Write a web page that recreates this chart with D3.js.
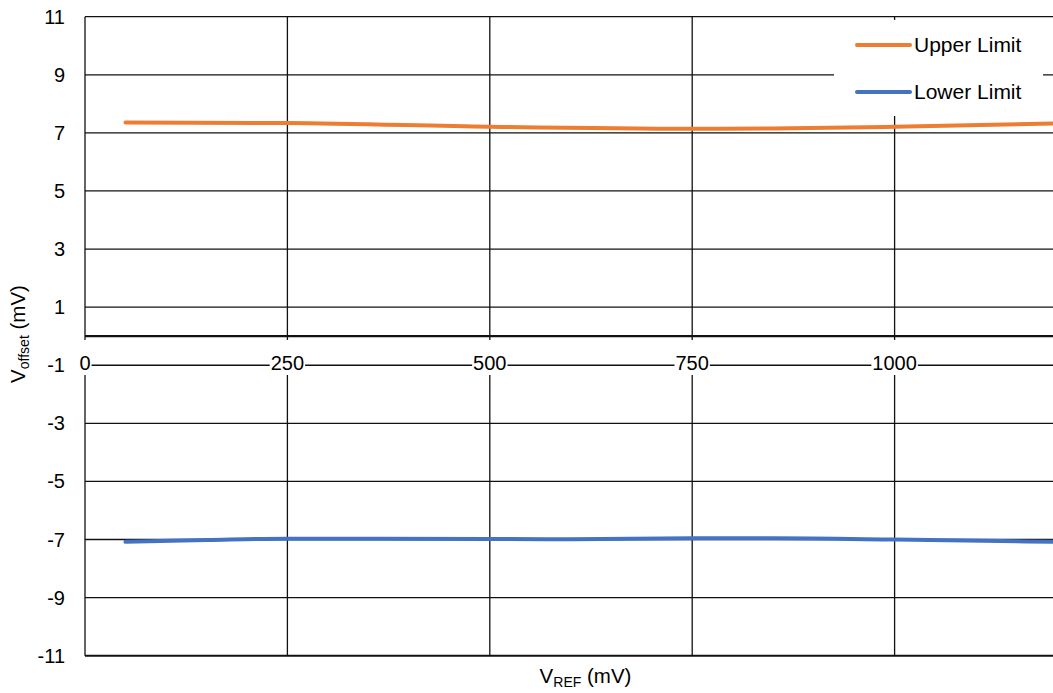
<!DOCTYPE html>
<html>
<head>
<meta charset="utf-8">
<script src="https://cdn.jsdelivr.net/npm/d3@7"></script>
<style>
  html, body { margin: 0; padding: 0; background: #fff; }
  svg { display: block; font-family: "Liberation Sans", Arial, sans-serif; }
</style>
</head>
<body>
<svg id="chart" width="1053" height="693"></svg>
<script>
// ---- data ----
const upperX = [50, 250, 500, 750, 850, 1000, 1200];
const upperY = [7.36, 7.34, 7.21, 7.14, 7.15, 7.21, 7.33];
const lowerX = [50, 150, 250, 500, 600, 750, 850, 1000, 1200];
const lowerY = [-7.08, -7.02, -6.97, -6.98, -6.99, -6.96, -6.96, -7.0, -7.08];
const xTicks = [0, 250, 500, 750, 1000];
const yTicks = [11, 9, 7, 5, 3, 1, -1, -3, -5, -7, -9, -11];
const seriesNames = ["Upper Limit", "Lower Limit"];
const seriesColors = ["#ED7D31", "#4472C4"];

const svg = d3.select("#chart");
const W = 1053, H = 693;

const x = d3.scaleLinear().domain([0, 1200]).range([85, 85 + 1200 * 0.8096]);
const y = d3.scaleLinear().domain([-11, 11]).range([655.7, 16.7]);

// gridlines
const grid = svg.append("g");
grid.selectAll("line.h").data(yTicks).join("line")
  .attr("x1", x(0)).attr("x2", W + 5)
  .attr("y1", d => y(d)).attr("y2", d => y(d))
  .attr("stroke", "#111").attr("stroke-width", d => d === -11 ? 2 : 1.3);
const vTicks = [0, 250, 500, 750, 1000, 1250];
grid.selectAll("line.v").data(vTicks).join("line")
  .attr("x1", d => x(d)).attr("x2", d => x(d))
  .attr("y1", y(11)).attr("y2", y(-11))
  .attr("stroke", "#111").attr("stroke-width", 1.3);

// x-axis line at zero
svg.append("line")
  .attr("x1", x(0)).attr("x2", W + 5)
  .attr("y1", y(0)).attr("y2", y(0))
  .attr("stroke", "#111").attr("stroke-width", 2.2);

// series
const line = d3.line().x(d => x(d[0])).y(d => y(d[1])).curve(d3.curveMonotoneX);
const series = [
  d3.zip(upperX, upperY),
  d3.zip(lowerX, lowerY)
];
svg.selectAll("path.series").data(series).join("path")
  .attr("class", "series")
  .attr("d", line)
  .attr("fill", "none")
  .attr("stroke", (d, i) => seriesColors[i])
  .attr("stroke-width", 4)
  .attr("stroke-linecap", "round")
  .attr("stroke-linejoin", "round");

// y tick labels
svg.append("g").selectAll("text").data(yTicks).join("text")
  .attr("x", 65).attr("y", d => y(d))
  .attr("dy", "0.35em")
  .attr("text-anchor", "end")
  .attr("font-size", 20)
  .attr("fill", "#000")
  .text(d => d);

// x tick labels with white background
const xl = svg.append("g");
const xlabels = xl.selectAll("g").data(xTicks).join("g");
xlabels.append("rect");
xlabels.append("text")
  .attr("x", d => x(d)).attr("y", 369.5)
  .attr("text-anchor", "middle")
  .attr("font-size", 20)
  .attr("fill", "#000")
  .text(d => d);
xlabels.each(function () {
  const g = d3.select(this);
  const bb = g.select("text").node().getBBox();
  g.select("rect")
    .attr("x", bb.x - 1).attr("y", 340)
    .attr("width", bb.width + 2).attr("height", 35)
    .attr("fill", "#fff");
});

// legend
const leg = svg.append("g");
leg.append("rect")
  .attr("x", 834).attr("y", 20).attr("width", 209).attr("height", 96)
  .attr("fill", "#fff");
const legY = [45, 92];
seriesNames.forEach((name, i) => {
  leg.append("line")
    .attr("x1", 857).attr("x2", 910)
    .attr("y1", legY[i]).attr("y2", legY[i])
    .attr("stroke", seriesColors[i]).attr("stroke-width", 4)
    .attr("stroke-linecap", "round");
  leg.append("text")
    .attr("x", 914).attr("y", legY[i]).attr("dy", "0.35em")
    .attr("font-size", 21).attr("fill", "#000")
    .text(name);
});

// x axis title
const xt = svg.append("text")
  .attr("x", 585.5).attr("y", 683)
  .attr("text-anchor", "middle")
  .attr("font-size", 20.5).attr("fill", "#000");
xt.append("tspan").text("V");
xt.append("tspan").attr("font-size", 14).attr("dy", 4).text("REF");
xt.append("tspan").attr("dy", -4).text(" (mV)");

// y axis title
const yt = svg.append("text")
  .attr("transform", "translate(25,334) rotate(-90)")
  .attr("text-anchor", "middle")
  .attr("font-size", 20.5).attr("fill", "#000");
yt.append("tspan").text("V");
yt.append("tspan").attr("font-size", 14).attr("dy", 4).text("offset");
yt.append("tspan").attr("dy", -4).text(" (mV)");
</script>
</body>
</html>
